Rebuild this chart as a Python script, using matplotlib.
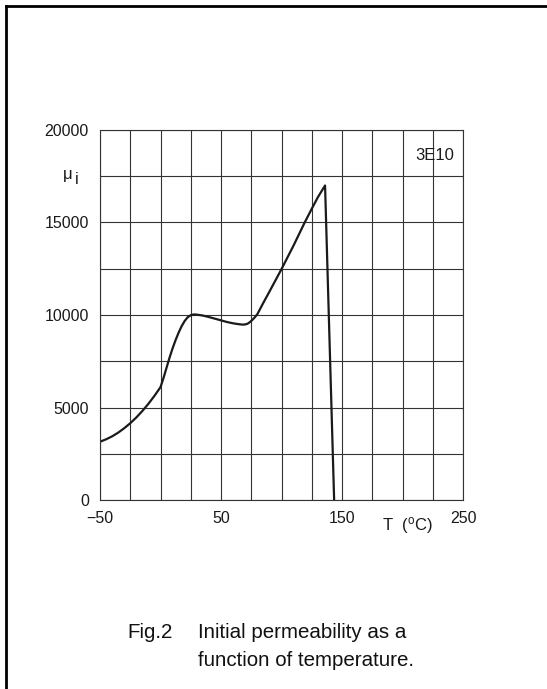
import numpy as np
import matplotlib.pyplot as plt
from matplotlib.lines import Line2D

plt.rcParams['font.family'] = ['Liberation Sans', 'DejaVu Sans']
plt.rcParams['mathtext.fontset'] = 'custom'
plt.rcParams['mathtext.rm'] = 'Liberation Sans'

# ---------- data ---------------------------------
temperature = [-50, -45, -40, -35, -30, -25, -20, -15, -10, -5, 0, 2.5, 5, 7.5, 10,
               12.5, 15, 17.5, 20, 22.5, 25, 27.5, 30, 35, 40, 45, 50, 55, 60, 65,
               68, 70, 72, 74, 76, 78, 80, 85, 90, 100, 110, 119, 125, 130, 136, 143.5]
permeability = [3150, 3280, 3440, 3640, 3880, 4150, 4460, 4810, 5200, 5630, 6100,
                6600, 7150, 7700, 8200, 8650, 9050, 9400, 9680, 9880, 9990, 10030,
                10020, 9970, 9890, 9800, 9710, 9620, 9550, 9500, 9480, 9490, 9530,
                9620, 9740, 9880, 10040, 10660, 11260, 12480, 13760, 14980, 15740,
                16360, 17000, 0]

x_grid = np.arange(-50, 251, 25)
y_grid = np.arange(0, 20001, 2500)
x_labels = {-50: '\u221250', 50: '50', 150: '150', 250: '250'}
y_labels = {0: '0', 5000: '5000', 10000: '10000', 15000: '15000', 20000: '20000'}
material = '3E10'

W, H = 547, 689
fig = plt.figure(figsize=(W / 100, H / 100), dpi=100)
ax = fig.add_axes([100 / W, (H - 500) / H, 363 / W, 370 / H])

ax.plot(temperature, permeability, color='#1a1a1a', lw=1.6, solid_joinstyle='round')

ax.set_xlim(-50, 250)
ax.set_ylim(0, 20000)
ax.set_xticks(x_grid)
ax.set_xticklabels([x_labels.get(int(v), '') for v in x_grid])
ax.set_yticks(y_grid)
ax.set_yticklabels([y_labels.get(int(v), '') for v in y_grid])
ax.tick_params(length=0, labelsize=11.5, colors='#1a1a1a')
ax.tick_params(axis='x', pad=8)
ax.tick_params(axis='y', pad=8)
ax.grid(True, color='#333333', lw=0.8)
for s in ax.spines.values():
    s.set_color('#333333')
    s.set_linewidth(0.8)

ax.text(0.975, 0.93, material, transform=ax.transAxes, ha='right', va='center',
        fontsize=12, color='#1a1a1a')

# axis names placed like in the datasheet
fig.text(67.5 / W, 1 - 174 / H, '\u03bc', fontsize=12, ha='center', va='center', color='#1a1a1a')
fig.text(77 / W, 1 - 180 / H, 'i', fontsize=11.5, ha='center', va='center', color='#1a1a1a')
fig.text(407 / W, 1 - 525 / H, r'T  ($\mathregular{^o}$C)', fontsize=12, ha='center',
         va='center', color='#1a1a1a')

# caption
fig.text(127 / W, 1 - 633 / H, 'Fig.2', fontsize=14.8, ha='left', va='center', color='#111111')
fig.text(198 / W, 1 - 633 / H, 'Initial permeability as a', fontsize=14.8, ha='left',
         va='center', color='#111111')
fig.text(198 / W, 1 - 660 / H, 'function of temperature.', fontsize=14.8, ha='left',
         va='center', color='#111111')

# frame lines (top and left only)
fig.add_artist(Line2D([6 / W, 1], [1 - 6 / H, 1 - 6 / H], color='black', lw=2,
                      transform=fig.transFigure))
fig.add_artist(Line2D([6 / W, 6 / W], [1 - 6 / H, 0], color='black', lw=2,
                      transform=fig.transFigure))

plt.savefig('out.png', dpi=100)
